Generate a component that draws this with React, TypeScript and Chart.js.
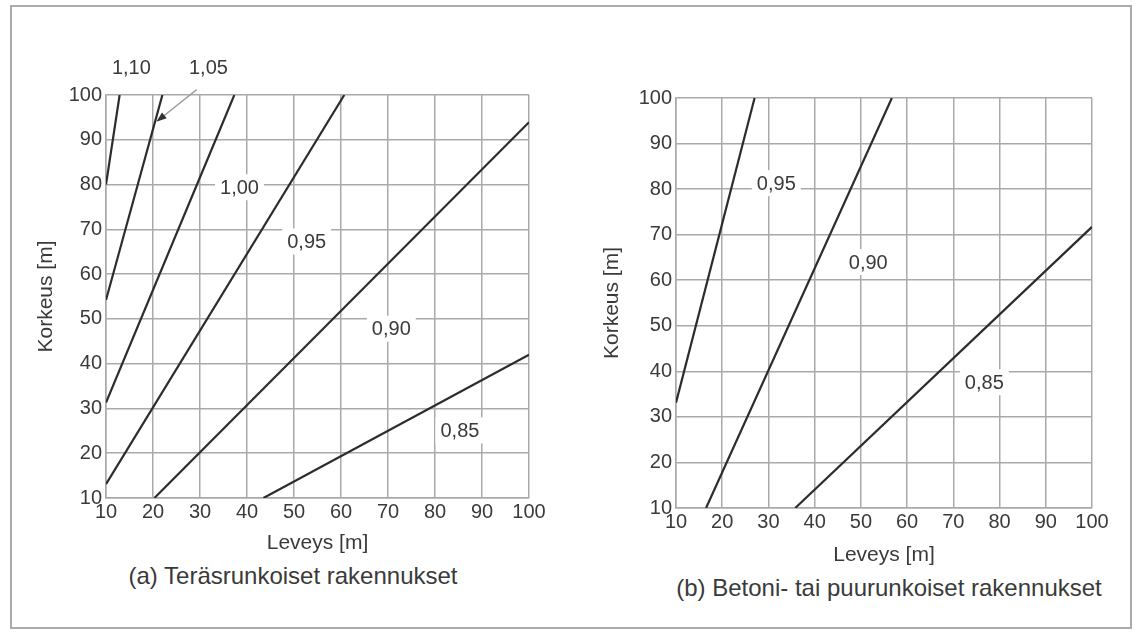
import React, { useEffect, useRef } from "react";
import { Chart, registerables } from "chart.js";

Chart.register(...registerables);

const FONT = "'Liberation Sans', Arial, Helvetica, sans-serif";
const TEXT = "#3a3a3a";
const LINE = "#2c2c2c";
const GRID = "#a9a9a9";

// shared axis ticks (both axes run 10..100 m)
const axisTicks = [10, 20, 30, 40, 50, 60, 70, 80, 90, 100];
const axisTickLabels = ["10", "20", "30", "40", "50", "60", "70", "80", "90", "100"];

const xTitle = "Leveys [m]";
const yTitle = "Korkeus [m]";
const captionA = "(a) Teräsrunkoiset rakennukset";
const captionB = "(b) Betoni- tai puurunkoiset rakennukset";

// (a) steel-framed buildings: curve values and end points (width x, height y)
const steelNames = ["1,10", "1,05", "1,00", "0,95", "0,90", "0,85"];
const steelStartX = [10, 10, 10, 10, 20.3, 43.5];
const steelStartY = [80, 54.2, 31.3, 13.1, 10, 10];
const steelEndX = [12.9, 22.0, 37.3, 60.7, 100, 100];
const steelEndY = [100, 100, 100, 100, 93.9, 42];
const steelLabelX = [15.4, 31.8, 38.4, 52.7, 70.7, 85.3];
const steelLabelY = [106.1, 106.1, 79.4, 67.3, 47.8, 25.1];
const steelArrowFrom = [29.3, 101.2];
const steelArrowTo = [20.7, 94];

// (b) concrete or timber framed buildings
const concreteNames = ["0,95", "0,90", "0,85"];
const concreteStartX = [10, 16.5, 35.8];
const concreteStartY = [33.1, 10, 10];
const concreteEndX = [27, 56.7, 100];
const concreteEndY = [100, 100, 71.7];
const concreteLabelX = [31.7, 51.6, 76.7];
const concreteLabelY = [81.3, 64, 37.6];

type PanelSpec = {
  names: string[];
  sx: number[];
  sy: number[];
  ex: number[];
  ey: number[];
  lx: number[];
  ly: number[];
  arrowFrom?: number[];
  arrowTo?: number[];
  padding: { left: number; top: number; right: number; bottom: number };
  yAxisWidth: number;
  xAxisHeight: number;
};

function labelPlugin(spec: PanelSpec) {
  return {
    id: "curveLabels",
    afterDatasetsDraw(chart: any) {
      const { ctx } = chart;
      const xs = chart.scales.x;
      const ys = chart.scales.y;
      ctx.save();
      if (spec.arrowFrom && spec.arrowTo) {
        const x1 = xs.getPixelForValue(spec.arrowFrom[0]);
        const y1 = ys.getPixelForValue(spec.arrowFrom[1]);
        const x2 = xs.getPixelForValue(spec.arrowTo[0]);
        const y2 = ys.getPixelForValue(spec.arrowTo[1]);
        const ang = Math.atan2(y2 - y1, x2 - x1);
        const head = 11;
        ctx.strokeStyle = "#9a9a9a";
        ctx.lineWidth = 1.3;
        ctx.beginPath();
        ctx.moveTo(x1, y1);
        ctx.lineTo(x2 - Math.cos(ang) * head * 0.6, y2 - Math.sin(ang) * head * 0.6);
        ctx.stroke();
        ctx.fillStyle = "#333";
        ctx.beginPath();
        ctx.moveTo(x2, y2);
        ctx.lineTo(x2 - head * Math.cos(ang - 0.35), y2 - head * Math.sin(ang - 0.35));
        ctx.lineTo(x2 - head * Math.cos(ang + 0.35), y2 - head * Math.sin(ang + 0.35));
        ctx.closePath();
        ctx.fill();
      }
      ctx.font = `20px ${FONT}`;
      ctx.textAlign = "center";
      ctx.textBaseline = "middle";
      spec.names.forEach((n, i) => {
        const px = xs.getPixelForValue(spec.lx[i]);
        const py = ys.getPixelForValue(spec.ly[i]);
        const w = ctx.measureText(n).width;
        ctx.fillStyle = "#ffffff";
        ctx.fillRect(px - w / 2 - 5, py - 13, w + 10, 26);
        ctx.fillStyle = TEXT;
        ctx.fillText(n, px, py + 1);
      });
      ctx.restore();
    },
  };
}

function buildConfig(spec: PanelSpec): any {
  const tickCb = (v: any) => {
    const i = axisTicks.indexOf(Number(v));
    return i >= 0 ? axisTickLabels[i] : "";
  };
  const setTicks = (axis: any) => {
    axis.ticks = axisTicks.map((v) => ({ value: v }));
  };
  return {
    type: "scatter",
    data: {
      datasets: spec.names.map((n, i) => ({
        label: n,
        data: [
          { x: spec.sx[i], y: spec.sy[i] },
          { x: spec.ex[i], y: spec.ey[i] },
        ],
        showLine: true,
        borderColor: LINE,
        backgroundColor: LINE,
        borderWidth: 2.2,
        pointRadius: 0,
        pointHoverRadius: 0,
        fill: false,
      })),
    },
    options: {
      animation: false,
      responsive: false,
      devicePixelRatio: 1,
      layout: { padding: spec.padding },
      plugins: {
        legend: { display: false },
        tooltip: { enabled: false },
        title: { display: false },
      },
      scales: {
        x: {
          type: "linear",
          min: 10,
          max: 100,
          afterBuildTicks: setTicks,
          afterFit: (s: any) => {
            s.height = spec.xAxisHeight;
          },
          ticks: {
            callback: tickCb,
            color: TEXT,
            font: { family: FONT, size: 20 },
            padding: 2,
            maxRotation: 0,
            autoSkip: false,
          },
          grid: { color: GRID, lineWidth: 1.5, drawTicks: false },
          border: { color: GRID, width: 1.5 },
          title: {
            display: true,
            text: xTitle,
            color: TEXT,
            font: { family: FONT, size: 21 },
            padding: { top: 0, bottom: 0 },
          },
        },
        y: {
          type: "linear",
          min: 10,
          max: 100,
          afterBuildTicks: setTicks,
          afterFit: (s: any) => {
            s.width = spec.yAxisWidth;
          },
          ticks: {
            callback: tickCb,
            color: TEXT,
            font: { family: FONT, size: 20 },
            padding: 4,
            autoSkip: false,
          },
          grid: { color: GRID, lineWidth: 1.5, drawTicks: false },
          border: { color: GRID, width: 1.5 },
          title: {
            display: true,
            text: yTitle,
            color: TEXT,
            font: { family: FONT, size: 21 },
            padding: { top: 0, bottom: 0 },
          },
        },
      },
    },
    plugins: [labelPlugin(spec)],
  };
}

function Panel({
  spec,
  left,
  top,
  width,
  height,
}: {
  spec: PanelSpec;
  left: number;
  top: number;
  width: number;
  height: number;
}) {
  const ref = useRef<HTMLCanvasElement | null>(null);
  useEffect(() => {
    if (!ref.current) return;
    const chart = new Chart(ref.current, buildConfig(spec));
    return () => chart.destroy();
  }, []);
  return (
    <canvas
      ref={ref}
      width={width}
      height={height}
      style={{ position: "absolute", left, top, width, height }}
    />
  );
}

const steelSpec: PanelSpec = {
  names: steelNames,
  sx: steelStartX,
  sy: steelStartY,
  ex: steelEndX,
  ey: steelEndY,
  lx: steelLabelX,
  ly: steelLabelY,
  arrowFrom: steelArrowFrom,
  arrowTo: steelArrowTo,
  padding: { left: 20, top: 75, right: 20, bottom: 0 },
  yAxisWidth: 72,
  xAxisHeight: 58,
};

const concreteSpec: PanelSpec = {
  names: concreteNames,
  sx: concreteStartX,
  sy: concreteStartY,
  ex: concreteEndX,
  ey: concreteEndY,
  lx: concreteLabelX,
  ly: concreteLabelY,
  padding: { left: 40, top: 78, right: 28, bottom: 0 },
  yAxisWidth: 76,
  xAxisHeight: 60,
};

export default function App() {
  return (
    <div
      style={{
        position: "absolute",
        left: 0,
        top: 0,
        width: 1136,
        height: 633,
        background: "#ffffff",
        overflow: "hidden",
        fontFamily: FONT,
      }}
    >
      <div
        style={{
          position: "absolute",
          left: 10,
          top: 5,
          width: 1122,
          height: 624,
          boxSizing: "border-box",
          border: "2px solid #ababab",
        }}
      />
      {/* left canvas: 14..549 wide, chart area 106..529 x 95..498 */}
      <Panel spec={steelSpec} left={14} top={20} width={535} height={536} />
      {/* right canvas: chart area 676..1092 x 98..508 */}
      <Panel spec={concreteSpec} left={560} top={20} width={560} height={548} />
      <div
        style={{
          position: "absolute",
          left: 293 - 250,
          width: 500,
          top: 562,
          height: 28,
          lineHeight: "28px",
          textAlign: "center",
          fontSize: 24,
          color: TEXT,
          whiteSpace: "nowrap",
        }}
      >
        {captionA}
      </div>
      <div
        style={{
          position: "absolute",
          left: 889 - 300,
          width: 600,
          top: 574,
          height: 28,
          lineHeight: "28px",
          textAlign: "center",
          fontSize: 24,
          color: TEXT,
          whiteSpace: "nowrap",
        }}
      >
        {captionB}
      </div>
    </div>
  );
}
